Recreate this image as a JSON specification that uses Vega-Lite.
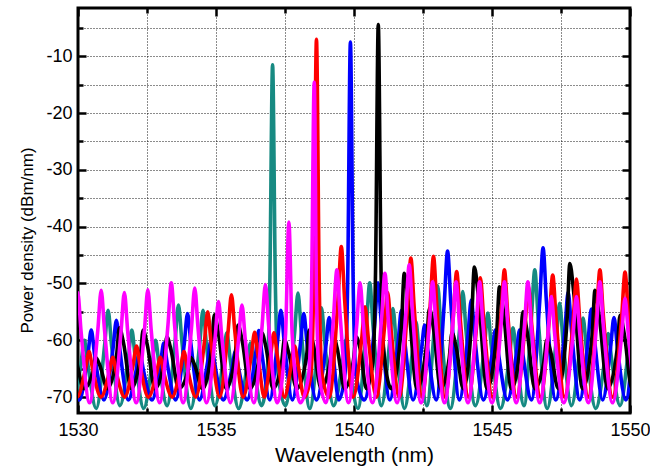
{
  "$schema": "https://vega.github.io/schema/vega-lite/v6.json",
  "width": 552,
  "height": 405,
  "autosize": {"type": "none"},
  "padding": {"left": 78, "top": 8, "right": 20, "bottom": 56},
  "background": "white",
  "config": {
    "view": {"stroke": "#000", "strokeWidth": 3},
    "font": "Liberation Sans"
  },
  "datasets": {
    "teal": [{"x":1529.25,"y":-62.7},{"x":1529.37,"y":-58},{"x":1529.49,"y":-62.7},{"x":1529.8,"y":-71.5},
{"x":1530.11,"y":-64},{"x":1530.23,"y":-60},{"x":1530.35,"y":-64},{"x":1530.66,"y":-72},
{"x":1530.97,"y":-60.6},{"x":1531.09,"y":-54.7},{"x":1531.21,"y":-60.6},{"x":1531.52,"y":-71.5},
{"x":1531.83,"y":-62.9},{"x":1531.95,"y":-58.2},{"x":1532.07,"y":-62.9},{"x":1532.38,"y":-72},
{"x":1532.69,"y":-64},{"x":1532.81,"y":-60},{"x":1532.93,"y":-64},{"x":1533.23,"y":-71.5},
{"x":1533.52,"y":-60},{"x":1533.64,"y":-53.8},{"x":1533.76,"y":-60},{"x":1534.09,"y":-72},
{"x":1534.41,"y":-60.6},{"x":1534.53,"y":-54.7},{"x":1534.65,"y":-60.6},{"x":1534.96,"y":-71.5},
{"x":1535.27,"y":-63.2},{"x":1535.39,"y":-58.7},{"x":1535.51,"y":-63.2},{"x":1535.82,"y":-72},
{"x":1536.13,"y":-64.4},{"x":1536.25,"y":-60.5},{"x":1536.37,"y":-64.4},{"x":1536.65,"y":-71.5},
{"x":1536.85,"y":-66},{"x":1536.95,"y":-50},{"x":1537.05,"y":-11.5},{"x":1537.15,"y":-50},{"x":1537.25,"y":-66},{"x":1537.51,"y":-71.5},
{"x":1537.85,"y":-58.6},{"x":1537.97,"y":-51.7},{"x":1538.09,"y":-58.6},{"x":1538.4,"y":-72},
{"x":1538.7,"y":-60.3},{"x":1538.82,"y":-54.3},{"x":1538.94,"y":-60.3},{"x":1539.26,"y":-71.5},
{"x":1539.58,"y":-64},{"x":1539.7,"y":-60},{"x":1539.82,"y":-64},{"x":1540.14,"y":-72},
{"x":1540.45,"y":-57.5},{"x":1540.57,"y":-49.9},{"x":1540.69,"y":-57.5},{"x":1540.99,"y":-71.5},
{"x":1541.29,"y":-60.4},{"x":1541.41,"y":-54.4},{"x":1541.53,"y":-60.4},{"x":1541.83,"y":-72},
{"x":1542.12,"y":-61.9},{"x":1542.24,"y":-56.7},{"x":1542.36,"y":-61.9},{"x":1542.64,"y":-71.5},
{"x":1542.91,"y":-57.8},{"x":1543.03,"y":-50.4},{"x":1543.15,"y":-57.8},{"x":1543.49,"y":-72},
{"x":1543.82,"y":-58.4},{"x":1543.94,"y":-51.4},{"x":1544.06,"y":-58.4},{"x":1544.4,"y":-71.5},
{"x":1544.73,"y":-60.9},{"x":1544.85,"y":-55.2},{"x":1544.97,"y":-60.9},{"x":1545.31,"y":-72},
{"x":1545.64,"y":-62.6},{"x":1545.76,"y":-57.8},{"x":1545.88,"y":-62.6},{"x":1546.16,"y":-71.5},
{"x":1546.43,"y":-56},{"x":1546.55,"y":-47.6},{"x":1546.67,"y":-56},{"x":1547.0,"y":-72},
{"x":1547.33,"y":-59.8},{"x":1547.45,"y":-53.5},{"x":1547.57,"y":-59.8},{"x":1547.88,"y":-71.5},
{"x":1548.18,"y":-61.5},{"x":1548.3,"y":-56.1},{"x":1548.42,"y":-61.5},{"x":1548.76,"y":-72},
{"x":1549.09,"y":-63.2},{"x":1549.21,"y":-58.8},{"x":1549.33,"y":-63.2},{"x":1549.64,"y":-71.5},
{"x":1549.94,"y":-61.9},{"x":1550.06,"y":-56.7},{"x":1550.18,"y":-61.9}],
    "blue": [{"x":1529.5,"y":-65},{"x":1529.62,"y":-62},{"x":1529.74,"y":-65},{"x":1530.05,"y":-70.5},
{"x":1530.36,"y":-62.5},{"x":1530.48,"y":-58.2},{"x":1530.6,"y":-62.5},{"x":1530.94,"y":-70.5},
{"x":1531.27,"y":-61.4},{"x":1531.39,"y":-56.5},{"x":1531.51,"y":-61.4},{"x":1531.82,"y":-70.5},
{"x":1532.12,"y":-65},{"x":1532.24,"y":-62},{"x":1532.36,"y":-65},{"x":1532.68,"y":-70.5},
{"x":1532.99,"y":-64},{"x":1533.11,"y":-60.5},{"x":1533.23,"y":-64},{"x":1533.54,"y":-70.5},
{"x":1533.85,"y":-60.6},{"x":1533.97,"y":-55.3},{"x":1534.09,"y":-60.6},{"x":1534.4,"y":-70.5},
{"x":1534.7,"y":-63.7},{"x":1534.82,"y":-60},{"x":1534.94,"y":-63.7},{"x":1535.26,"y":-70.5},
{"x":1535.58,"y":-65},{"x":1535.7,"y":-62},{"x":1535.82,"y":-65},{"x":1536.13,"y":-70.5},
{"x":1536.43,"y":-62.6},{"x":1536.55,"y":-58.3},{"x":1536.67,"y":-62.6},{"x":1536.95,"y":-70.5},
{"x":1537.23,"y":-60.2},{"x":1537.35,"y":-54.7},{"x":1537.47,"y":-60.2},{"x":1537.77,"y":-70.5},
{"x":1538.06,"y":-60.6},{"x":1538.18,"y":-55.3},{"x":1538.3,"y":-60.6},{"x":1538.64,"y":-70.5},
{"x":1538.98,"y":-61.1},{"x":1539.1,"y":-56},{"x":1539.22,"y":-61.1},{"x":1539.45,"y":-70.5},
{"x":1539.67,"y":-66},{"x":1539.77,"y":-50},{"x":1539.87,"y":-7.5},{"x":1539.97,"y":-50},{"x":1540.07,"y":-66},{"x":1540.37,"y":-70.5},
{"x":1540.75,"y":-57.1},{"x":1540.87,"y":-49.9},{"x":1540.99,"y":-57.1},{"x":1541.3,"y":-70.5},
{"x":1541.6,"y":-60.2},{"x":1541.72,"y":-54.7},{"x":1541.84,"y":-60.2},{"x":1542.14,"y":-70.5},
{"x":1542.44,"y":-61.9},{"x":1542.56,"y":-57.3},{"x":1542.68,"y":-61.9},{"x":1542.98,"y":-70.5},
{"x":1543.27,"y":-53.5},{"x":1543.39,"y":-44.3},{"x":1543.51,"y":-53.5},{"x":1543.82,"y":-70.5},
{"x":1544.13,"y":-59.1},{"x":1544.25,"y":-52.9},{"x":1544.37,"y":-59.1},{"x":1544.69,"y":-70.5},
{"x":1545.0,"y":-62.5},{"x":1545.12,"y":-58.2},{"x":1545.24,"y":-62.5},{"x":1545.56,"y":-70.5},
{"x":1545.88,"y":-62.5},{"x":1546.0,"y":-58.2},{"x":1546.12,"y":-62.5},{"x":1546.43,"y":-70.5},
{"x":1546.73,"y":-53.1},{"x":1546.85,"y":-43.7},{"x":1546.97,"y":-53.1},{"x":1547.31,"y":-70.5},
{"x":1547.64,"y":-58.2},{"x":1547.76,"y":-51.5},{"x":1547.88,"y":-58.2},{"x":1548.18,"y":-70.5},
{"x":1548.48,"y":-60.1},{"x":1548.6,"y":-54.5},{"x":1548.72,"y":-60.1},{"x":1549.01,"y":-70.5},
{"x":1549.3,"y":-61.1},{"x":1549.42,"y":-56},{"x":1549.54,"y":-61.1},{"x":1549.85,"y":-70.5},
{"x":1550.16,"y":-57.2},{"x":1550.28,"y":-50},{"x":1550.4,"y":-57.2}],
    "black": [{"x":1529.68,"y":-64.9},{"x":1529.78,"y":-62},{"x":1529.93,"y":-63.6},{"x":1530.21,"y":-68.5},
{"x":1530.54,"y":-65.5},{"x":1530.64,"y":-63},{"x":1530.79,"y":-64.4},{"x":1531.07,"y":-68.5},
{"x":1531.4,"y":-62.6},{"x":1531.5,"y":-57.8},{"x":1531.65,"y":-60.5},{"x":1531.93,"y":-68.5},
{"x":1532.26,"y":-62.8},{"x":1532.36,"y":-58.2},{"x":1532.51,"y":-60.8},{"x":1532.79,"y":-68.5},
{"x":1533.12,"y":-63.5},{"x":1533.22,"y":-59.4},{"x":1533.37,"y":-61.7},{"x":1533.65,"y":-68.5},
{"x":1533.98,"y":-65.5},{"x":1534.08,"y":-63},{"x":1534.23,"y":-64.4},{"x":1534.51,"y":-68.5},
{"x":1534.84,"y":-61.4},{"x":1534.94,"y":-55.5},{"x":1535.09,"y":-58.8},{"x":1535.37,"y":-68.5},
{"x":1535.7,"y":-62.3},{"x":1535.8,"y":-57.3},{"x":1535.95,"y":-60.1},{"x":1536.23,"y":-68.5},
{"x":1536.56,"y":-63.1},{"x":1536.66,"y":-58.7},{"x":1536.81,"y":-61.2},{"x":1537.07,"y":-68.5},
{"x":1537.38,"y":-63.8},{"x":1537.48,"y":-59.9},{"x":1537.63,"y":-62.1},{"x":1537.93,"y":-68.5},
{"x":1538.28,"y":-62.8},{"x":1538.38,"y":-58.2},{"x":1538.53,"y":-60.8},{"x":1538.81,"y":-68.5},
{"x":1539.14,"y":-63.3},{"x":1539.24,"y":-59},{"x":1539.39,"y":-61.4},{"x":1539.66,"y":-68.5},
{"x":1539.98,"y":-63.5},{"x":1540.08,"y":-59.4},{"x":1540.23,"y":-61.7},{"x":1540.45,"y":-68.5},
{"x":1540.68,"y":-64},{"x":1540.78,"y":-48},{"x":1540.88,"y":-4.4},{"x":1540.98,"y":-48},{"x":1541.08,"y":-62},{"x":1541.35,"y":-68.5},
{"x":1541.72,"y":-57.3},{"x":1541.82,"y":-48.2},{"x":1541.97,"y":-53.3},{"x":1542.28,"y":-68.5},
{"x":1542.63,"y":-60.7},{"x":1542.73,"y":-54.4},{"x":1542.88,"y":-57.9},{"x":1543.14,"y":-68.5},
{"x":1543.45,"y":-63.1},{"x":1543.55,"y":-58.7},{"x":1543.7,"y":-61.2},{"x":1543.96,"y":-68.5},
{"x":1544.26,"y":-56.7},{"x":1544.36,"y":-47.1},{"x":1544.51,"y":-52.5},{"x":1544.82,"y":-68.5},
{"x":1545.17,"y":-58.7},{"x":1545.27,"y":-50.6},{"x":1545.42,"y":-55.1},{"x":1545.7,"y":-68.5},
{"x":1546.02,"y":-61.1},{"x":1546.12,"y":-55},{"x":1546.27,"y":-58.4},{"x":1546.55,"y":-68.5},
{"x":1546.88,"y":-63.8},{"x":1546.98,"y":-60},{"x":1547.13,"y":-62.1},{"x":1547.4,"y":-68.5},
{"x":1547.72,"y":-56.4},{"x":1547.82,"y":-46.5},{"x":1547.97,"y":-52},{"x":1548.28,"y":-68.5},
{"x":1548.63,"y":-59},{"x":1548.73,"y":-51.2},{"x":1548.88,"y":-55.5},{"x":1549.19,"y":-68.5},
{"x":1549.54,"y":-61.4},{"x":1549.64,"y":-55.6},{"x":1549.79,"y":-58.8},{"x":1550.07,"y":-68.5},
{"x":1550.4,"y":-63.3},{"x":1550.5,"y":-59},{"x":1550.65,"y":-61.4}],
    "red": [{"x":1529.42,"y":-64.8},{"x":1529.54,"y":-62},{"x":1529.66,"y":-64.8},{"x":1529.97,"y":-70},
{"x":1530.28,"y":-64.8},{"x":1530.4,"y":-62},{"x":1530.52,"y":-64.8},{"x":1530.83,"y":-70},
{"x":1531.14,"y":-65.5},{"x":1531.26,"y":-63},{"x":1531.38,"y":-65.5},{"x":1531.69,"y":-70},
{"x":1532.0,"y":-64.2},{"x":1532.12,"y":-61},{"x":1532.24,"y":-64.2},{"x":1532.55,"y":-70},
{"x":1532.86,"y":-65.5},{"x":1532.98,"y":-63},{"x":1533.1,"y":-65.5},{"x":1533.41,"y":-70},
{"x":1533.72,"y":-64.8},{"x":1533.84,"y":-62},{"x":1533.96,"y":-64.8},{"x":1534.27,"y":-70},
{"x":1534.58,"y":-60.3},{"x":1534.7,"y":-55},{"x":1534.82,"y":-60.3},{"x":1535.13,"y":-70},
{"x":1535.44,"y":-58.3},{"x":1535.56,"y":-52},{"x":1535.68,"y":-58.3},{"x":1535.98,"y":-70},
{"x":1536.28,"y":-62.6},{"x":1536.4,"y":-58.6},{"x":1536.52,"y":-62.6},{"x":1536.75,"y":-70},
{"x":1536.98,"y":-62.7},{"x":1537.1,"y":-58.7},{"x":1537.22,"y":-62.7},{"x":1537.48,"y":-70},
{"x":1537.73,"y":-64.2},{"x":1537.85,"y":-61},{"x":1537.97,"y":-64.2},{"x":1538.2,"y":-70},
{"x":1538.44,"y":-66},{"x":1538.54,"y":-50},{"x":1538.64,"y":-7},{"x":1538.74,"y":-50},{"x":1538.84,"y":-66},{"x":1539.1,"y":-70},
{"x":1539.42,"y":-52.8},{"x":1539.54,"y":-43.5},{"x":1539.66,"y":-52.8},{"x":1539.97,"y":-70},
{"x":1540.28,"y":-59.7},{"x":1540.4,"y":-54.1},{"x":1540.52,"y":-59.7},{"x":1540.81,"y":-70},
{"x":1541.1,"y":-58},{"x":1541.22,"y":-51.6},{"x":1541.34,"y":-58},{"x":1541.64,"y":-70},
{"x":1541.94,"y":-54.1},{"x":1542.06,"y":-45.5},{"x":1542.18,"y":-54.1},{"x":1542.47,"y":-70},
{"x":1542.76,"y":-53.9},{"x":1542.88,"y":-45.2},{"x":1543.0,"y":-53.9},{"x":1543.3,"y":-70},
{"x":1543.6,"y":-55.6},{"x":1543.72,"y":-47.9},{"x":1543.84,"y":-55.6},{"x":1544.15,"y":-70},
{"x":1544.46,"y":-56.4},{"x":1544.58,"y":-49},{"x":1544.7,"y":-56.4},{"x":1545.02,"y":-70},
{"x":1545.33,"y":-55.4},{"x":1545.45,"y":-47.6},{"x":1545.57,"y":-55.4},{"x":1545.89,"y":-70},
{"x":1546.2,"y":-57.3},{"x":1546.32,"y":-50.5},{"x":1546.44,"y":-57.3},{"x":1546.76,"y":-70},
{"x":1547.08,"y":-56},{"x":1547.2,"y":-48.5},{"x":1547.32,"y":-56},{"x":1547.63,"y":-70},
{"x":1547.94,"y":-56.5},{"x":1548.06,"y":-49.2},{"x":1548.18,"y":-56.5},{"x":1548.49,"y":-70},
{"x":1548.79,"y":-55.4},{"x":1548.91,"y":-47.6},{"x":1549.03,"y":-55.4},{"x":1549.37,"y":-70},
{"x":1549.7,"y":-55.7},{"x":1549.82,"y":-48},{"x":1549.94,"y":-55.7},{"x":1550.25,"y":-70},
{"x":1550.56,"y":-57},{"x":1550.68,"y":-50}],
    "magenta": [{"x":1529.02,"y":-58.7},{"x":1529.14,"y":-52},{"x":1529.26,"y":-58.7},{"x":1529.57,"y":-71},
{"x":1529.87,"y":-58.4},{"x":1529.99,"y":-51.6},{"x":1530.11,"y":-58.4},{"x":1530.42,"y":-71},
{"x":1530.72,"y":-58.1},{"x":1530.84,"y":-51.2},{"x":1530.96,"y":-58.1},{"x":1531.26,"y":-71},
{"x":1531.56,"y":-58.4},{"x":1531.68,"y":-51.6},{"x":1531.8,"y":-58.4},{"x":1532.11,"y":-71},
{"x":1532.41,"y":-58.1},{"x":1532.53,"y":-51.1},{"x":1532.65,"y":-58.1},{"x":1532.96,"y":-71},
{"x":1533.26,"y":-57.3},{"x":1533.38,"y":-49.9},{"x":1533.5,"y":-57.3},{"x":1533.81,"y":-71},
{"x":1534.11,"y":-57.9},{"x":1534.23,"y":-50.8},{"x":1534.35,"y":-57.9},{"x":1534.66,"y":-71},
{"x":1534.97,"y":-59.4},{"x":1535.09,"y":-53.2},{"x":1535.21,"y":-59.4},{"x":1535.52,"y":-71},
{"x":1535.82,"y":-59.8},{"x":1535.94,"y":-53.8},{"x":1536.06,"y":-59.8},{"x":1536.37,"y":-71},
{"x":1536.67,"y":-57.5},{"x":1536.79,"y":-50.2},{"x":1536.91,"y":-57.5},{"x":1537.22,"y":-71},
{"x":1537.52,"y":-58.9},{"x":1537.64,"y":-39.2},{"x":1537.76,"y":-58.9},{"x":1538.05,"y":-71},
{"x":1538.36,"y":-66},{"x":1538.46,"y":-52},{"x":1538.56,"y":-14.6},{"x":1538.64,"y":-52},{"x":1538.74,"y":-66},{"x":1538.98,"y":-71},
{"x":1539.26,"y":-55.8},{"x":1539.38,"y":-47.6},{"x":1539.5,"y":-55.8},{"x":1539.8,"y":-71},
{"x":1540.1,"y":-57.3},{"x":1540.22,"y":-49.9},{"x":1540.34,"y":-57.3},{"x":1540.67,"y":-71},
{"x":1541.0,"y":-56.2},{"x":1541.12,"y":-48.2},{"x":1541.24,"y":-56.2},{"x":1541.56,"y":-71},
{"x":1541.88,"y":-55.2},{"x":1542.0,"y":-46.7},{"x":1542.12,"y":-55.2},{"x":1542.43,"y":-71},
{"x":1542.73,"y":-57.2},{"x":1542.85,"y":-49.7},{"x":1542.97,"y":-57.2},{"x":1543.28,"y":-71},
{"x":1543.58,"y":-57.2},{"x":1543.7,"y":-49.7},{"x":1543.82,"y":-57.2},{"x":1544.13,"y":-71},
{"x":1544.43,"y":-57.2},{"x":1544.55,"y":-49.7},{"x":1544.67,"y":-57.2},{"x":1545.0,"y":-71},
{"x":1545.33,"y":-57.2},{"x":1545.45,"y":-49.7},{"x":1545.57,"y":-57.2},{"x":1545.88,"y":-71},
{"x":1546.18,"y":-57.2},{"x":1546.3,"y":-49.7},{"x":1546.42,"y":-57.2},{"x":1546.73,"y":-71},
{"x":1547.03,"y":-58.8},{"x":1547.15,"y":-52.3},{"x":1547.27,"y":-58.8},{"x":1547.6,"y":-71},
{"x":1547.94,"y":-58.8},{"x":1548.06,"y":-52.3},{"x":1548.18,"y":-58.8},{"x":1548.49,"y":-71},
{"x":1548.79,"y":-57.2},{"x":1548.91,"y":-49.7},{"x":1549.03,"y":-57.2},{"x":1549.37,"y":-71},
{"x":1549.7,"y":-59},{"x":1549.82,"y":-52.6},{"x":1549.94,"y":-59},{"x":1550.25,"y":-71},
{"x":1550.56,"y":-58.7},{"x":1550.68,"y":-52}]
  },
  "resolve": {"axis": {"x": "independent", "y": "independent"}},
  "layer": [
    {
      "data": {"name": "teal"},
      "mark": {"type": "line", "color": "#178a82", "strokeWidth": 3.6, "interpolate": "monotone", "clip": true},
      "encoding": {
        "x": {"field": "x", "type": "quantitative", "sort": null,
          "scale": {"domain": [1530, 1550], "nice": false, "zero": false},
          "axis": {"orient": "bottom", "values": [1530,1532.5,1535,1537.5,1540,1542.5,1545,1547.5,1550],
            "labelExpr": "datum.value % 5 === 0 ? '' + datum.value : ''",
            "domain": false, "grid": true, "gridColor": "#000", "gridDash": [1, 2], "gridWidth": 1, "gridOpacity": 0.9,
            "tickColor": "#000", "tickWidth": 2.5,
            "tickSize": {"condition": {"test": "datum.value % 5 === 0", "value": -8}, "value": -5},
            "labelFont": "Liberation Sans", "labelFontSize": 18, "labelColor": "#000", "labelPadding": 16,
            "labelFlush": false, "labelOverlap": false,
            "title": "Wavelength (nm)", "titleFont": "Liberation Sans", "titleFontSize": 21, "titleFontWeight": "normal",
            "titleColor": "#000", "titleY": 42, "titleBaseline": "middle"}},
        "y": {"field": "y", "type": "quantitative",
          "scale": {"domain": [-72.8, -1.5], "nice": false, "zero": false},
          "axis": {"orient": "left", "values": [-70,-65,-60,-55,-50,-45,-40,-35,-30,-25,-20,-15,-10,-5],
            "labelExpr": "datum.value % 10 === 0 ? '' + datum.value : ''",
            "domain": false, "grid": true, "gridColor": "#000", "gridDash": [1, 2], "gridWidth": 1, "gridOpacity": 0.9,
            "tickColor": "#000", "tickWidth": 2.5,
            "tickSize": {"condition": {"test": "datum.value % 10 === 0", "value": -8}, "value": -5},
            "labelFont": "Liberation Sans", "labelFontSize": 18, "labelColor": "#000", "labelPadding": 14,
            "labelFlush": false, "labelOverlap": false,
            "title": "Power density (dBm/nm)", "titleFont": "Liberation Sans", "titleFontSize": 17, "titleFontWeight": "normal",
            "titleColor": "#000", "titleX": -51, "titleY": 232, "titleBaseline": "middle", "titleAngle": -90}}
      }
    },
    {
      "data": {"name": "blue"},
      "mark": {"type": "line", "color": "#0000ff", "strokeWidth": 3.6, "interpolate": "monotone", "clip": true},
      "encoding": {
        "x": {"field": "x", "type": "quantitative", "sort": null,
          "axis": {"orient": "top", "values": [1530,1532.5,1535,1537.5,1540,1542.5,1545,1547.5,1550],
            "labels": false, "domain": false, "grid": false, "title": null,
            "tickColor": "#000", "tickWidth": 2.5,
            "tickSize": {"condition": {"test": "datum.value % 5 === 0", "value": -8}, "value": -5}}},
        "y": {"field": "y", "type": "quantitative",
          "axis": {"orient": "right", "values": [-70,-65,-60,-55,-50,-45,-40,-35,-30,-25,-20,-15,-10,-5],
            "labels": false, "domain": false, "grid": false, "title": null,
            "tickColor": "#000", "tickWidth": 2.5,
            "tickSize": {"condition": {"test": "datum.value % 10 === 0", "value": -8}, "value": -5}}}
      }
    },
    {
      "data": {"name": "black"},
      "mark": {"type": "line", "color": "#000000", "strokeWidth": 3.6, "interpolate": "monotone", "clip": true},
      "encoding": {
        "x": {"field": "x", "type": "quantitative", "sort": null, "axis": null},
        "y": {"field": "y", "type": "quantitative", "axis": null}
      }
    },
    {
      "data": {"name": "red"},
      "mark": {"type": "line", "color": "#ff0000", "strokeWidth": 3.6, "interpolate": "monotone", "clip": true},
      "encoding": {
        "x": {"field": "x", "type": "quantitative", "sort": null, "axis": null},
        "y": {"field": "y", "type": "quantitative", "axis": null}
      }
    },
    {
      "data": {"name": "magenta"},
      "mark": {"type": "line", "color": "#ff00ff", "strokeWidth": 3.6, "interpolate": "monotone", "clip": true},
      "encoding": {
        "x": {"field": "x", "type": "quantitative", "sort": null, "axis": null},
        "y": {"field": "y", "type": "quantitative", "axis": null}
      }
    }
  ]
}
